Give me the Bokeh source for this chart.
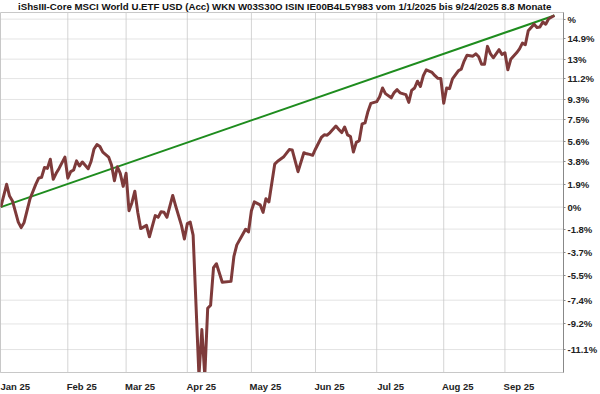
import numpy as np
from bokeh.plotting import figure
from bokeh.models import FixedTicker, Range1d, Div
from bokeh.layouts import column
from bokeh.embed import file_html
from bokeh.resources import INLINE

title_text = ("iShsIII-Core MSCI World U.ETF USD (Acc) WKN W03S30O ISIN IE00B4L5Y983 "
              "vom 1/1/2025 bis 9/24/2025 8.8 Monate")

# weekday index since 1 Jan 2025 (Mon-Fri), and performance in %
weekday_idx = [0, 2, 3, 4, 6, 7, 8, 10, 12, 13, 14, 15, 16, 17, 18, 19, 20, 22, 23, 24,
               25, 26, 27, 28, 30, 31, 32, 33, 34, 35, 37, 38, 39, 40, 41, 42, 43, 44, 45, 46,
               47, 48, 50, 51, 53, 54, 55, 56, 57, 59, 60, 62, 63, 64, 65, 66, 68, 69, 70, 71,
               72, 73, 74, 76, 79, 80, 81, 83, 84, 85, 86, 87, 89, 90, 91, 92, 94, 95, 97, 99,
               100, 102, 104, 105, 106, 107, 108, 110, 111, 112, 113, 115, 116, 117, 118, 119, 120, 121, 122, 123,
               124, 125, 126, 127, 129, 130, 131, 132, 134, 135, 136, 137, 139, 140, 141, 142, 143, 144, 145, 146,
               148, 149, 150, 151, 152, 153, 154, 155, 157, 158, 159, 160, 162, 163, 164, 165, 166, 167, 168, 169,
               171, 172, 173, 174, 175, 177, 178, 179, 180, 181, 182, 183, 184, 185, 186, 187, 188, 190]
pct = [0.0, 1.90, 0.92, 0.51, -1.23, -1.68, -1.26, 0.67, 1.90, 2.42, 2.50, 3.33, 3.25, 4.03, 2.33, 2.83, 3.25, 4.22, 2.42, 2.97,
       3.11, 3.89, 3.45, 3.80, 3.22, 3.86, 4.92, 5.30, 5.13, 4.65, 4.22, 3.53, 2.20, 3.39, 2.83, 1.73, 2.83, -0.30, 0.37, 1.32,
       -0.43, -1.76, -1.50, -2.42, -0.70, -0.84, -0.38, -0.43, -0.84, 0.97, 0.10, -1.50, -2.60, -1.36, -1.23, -2.29, -13.0, -9.62, -13.0, -8.02,
       -7.78, -4.88, -4.57, -6.02, -5.95, -3.98, -3.07, -2.23, -1.81, -2.03, -0.30, 0.43, 0.19, -0.43, 0.70, 0.43, 3.61, 3.86, 4.22, 4.87,
       4.84, 2.97, 4.59, 4.50, 4.45, 4.37, 4.92, 5.92, 6.15, 6.12, 6.35, 6.92, 6.63, 6.35, 6.84, 6.15, 6.00, 4.65, 5.49, 5.64,
       7.12, 7.21, 8.22, 8.95, 9.10, 9.54, 10.34, 9.83, 9.45, 9.92, 10.19, 9.90, 9.74, 9.04, 10.12, 10.34, 10.96, 10.48, 11.47, 12.01,
       11.77, 11.47, 11.23, 11.20, 8.95, 10.34, 10.28, 11.17, 11.92, 12.07, 12.82, 13.37, 13.28, 13.50, 13.22, 12.52, 12.52, 14.20, 13.52, 13.13,
       13.89, 13.43, 13.59, 12.01, 12.98, 13.59, 13.96, 14.51, 14.35, 15.68, 16.00, 16.31, 16.00, 16.05, 16.52, 16.31, 16.84, 17.15]

# trend line (first to last value)
trend_idx = [0, 190]
trend_pct = [0.0, 17.15]

month_labels = ["Jan 25", "Feb 25", "Mar 25", "Apr 25", "May 25", "Jun 25", "Jul 25", "Aug 25", "Sep 25"]
month_start_idx = [0, 23, 43, 64, 86, 108, 129, 152, 173]

y_tick_pct = [16.8, 14.9, 13.0, 11.2, 9.3, 7.5, 5.6, 3.8, 1.9, 0.0,
              -1.8, -3.7, -5.5, -7.4, -9.2, -11.1]
y_tick_labels = ["%", "14.9%", "13%", "11.2%", "9.3%", "7.5%", "5.6%", "3.8%", "1.9%", "0%",
                 "-1.8%", "-3.7%", "-5.5%", "-7.4%", "-9.2%", "-11.1%"]

FONT = "Liberation Sans"

ratio = 1 + np.array(pct) / 100.0
trend_ratio = 1 + np.array(trend_pct) / 100.0
y_ticks = [round(1 + v / 100.0, 6) for v in y_tick_pct]

X_RANGE = (-0.1, 193.1)
Y_RANGE = (0.8723, 1.1744)

title_div = Div(text=title_text, width=600, height=12, margin=(0, 0, 0, 0),
                styles={"font-family": FONT, "font-weight": "bold", "font-size": "9.7px",
                        "line-height": "14px", "padding-left": "18px", "white-space": "nowrap",
                        "color": "#111111"})

p = figure(width=600, height=382, y_axis_type="log", y_axis_location="right",
           x_range=Range1d(*X_RANGE), y_range=Range1d(*Y_RANGE),
           output_backend="svg", toolbar_location=None,
           min_border_left=0, min_border_right=32, min_border_top=0, min_border_bottom=13)

p.background_fill_color = "white"
p.border_fill_color = "white"
p.outline_line_color = "#c8c8c8"
p.grid.visible = False

# grid lines drawn as glyphs beneath the data lines
p.segment(x0=month_start_idx[1:], x1=month_start_idx[1:],
          y0=[Y_RANGE[0]] * (len(month_start_idx) - 1), y1=[Y_RANGE[1]] * (len(month_start_idx) - 1),
          line_color="#d4d4d4", line_width=1)
p.segment(x0=[X_RANGE[0]] * len(y_ticks), x1=[X_RANGE[1]] * len(y_ticks),
          y0=y_ticks, y1=y_ticks, line_color="#c8c8c8", line_width=1, line_dash="1 1")

# x axis: labels start at the month gridline
label_pos = [m + 4.8 for m in month_start_idx]
p.xaxis.ticker = FixedTicker(ticks=label_pos)
p.xaxis.major_label_overrides = {lp: lab for lp, lab in zip(label_pos, month_labels)}
p.xaxis.major_tick_line_color = None
p.xaxis.minor_tick_line_color = None
p.xaxis.axis_line_color = "#c8c8c8"
p.xaxis.major_label_standoff = 2
p.xaxis.major_label_text_font = FONT
p.xaxis.major_label_text_font_style = "bold"
p.xaxis.major_label_text_font_size = "9.5px"
p.xaxis.major_label_text_color = "#222222"

# y axis on the right
p.yaxis.ticker = FixedTicker(ticks=y_ticks)
p.yaxis.major_label_overrides = {t: lab for t, lab in zip(y_ticks, y_tick_labels)}
p.yaxis.minor_tick_line_color = None
p.yaxis.major_tick_in = 0
p.yaxis.major_tick_out = 2
p.yaxis.major_tick_line_color = "#888888"
p.yaxis.axis_line_color = "#888888"
p.yaxis.major_label_standoff = 2
p.yaxis.major_label_text_font = FONT
p.yaxis.major_label_text_font_style = "bold"
p.yaxis.major_label_text_font_size = "9.5px"
p.yaxis.major_label_text_color = "#222222"

p.line(trend_idx, trend_ratio, line_color="#1e8c1e", line_width=2)
p.line(weekday_idx, ratio, line_color="#7e3a3a", line_width=3, line_join="round")

layout = column(title_div, p, spacing=0)
open("out.html", "w").write(file_html(layout, INLINE))
